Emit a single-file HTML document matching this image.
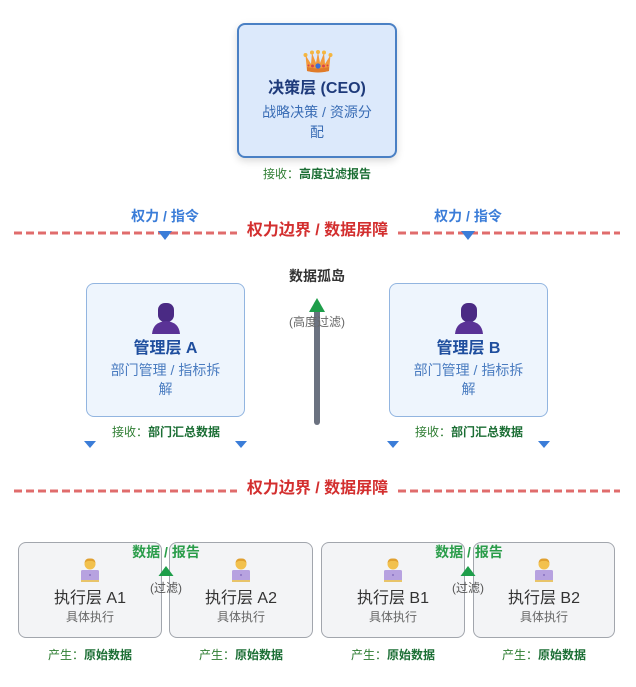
<!DOCTYPE html>
<html><head><meta charset="utf-8"><style>
*{margin:0;padding:0;box-sizing:border-box}
body{width:636px;height:687px;background:#fff;position:relative;overflow:hidden;font-family:"Liberation Sans","Noto Sans CJK SC",sans-serif}
.a{position:absolute;white-space:nowrap;text-align:center}
.box{position:absolute;border-radius:8px}
.ceo{left:237px;top:23px;width:160px;height:135px;background:#dce9fb;border:2px solid #4a80c4;box-shadow:0 3px 8px rgba(0,0,0,.15)}
.mgr{top:283px;width:159px;height:134px;background:#eef5fd;border:1px solid #92b5e0}
.ex{top:542px;height:96px;background:#f3f4f6;border:1px solid #a2a6ad}
.g{font-size:12px;color:#2e7d32;line-height:16px;font-family:"Noto Sans CJK SC",sans-serif}
.g b{color:#1b6e34}
</style></head><body>
<svg width="636" height="687" style="position:absolute;left:0;top:0">
<line x1="14" y1="233" x2="620" y2="233" stroke="#e06c6c" stroke-width="3" stroke-dasharray="8 4"/>
<line x1="14" y1="491" x2="620" y2="491" stroke="#e06c6c" stroke-width="3" stroke-dasharray="8 4"/>
<polygon points="158,231 172,231 165,240" fill="#3b7dd8"/>
<polygon points="461,231 475,231 468,240" fill="#3b7dd8"/>
<polygon points="84,441 96,441 90,448" fill="#3b7dd8"/>
<polygon points="235,441 247,441 241,448" fill="#3b7dd8"/>
<polygon points="387,441 399,441 393,448" fill="#3b7dd8"/>
<polygon points="538,441 550,441 544,448" fill="#3b7dd8"/>
<line x1="317" y1="304" x2="317" y2="422" stroke="#6b7280" stroke-width="6" stroke-linecap="round"/>
<polygon points="317,298 325,312 309,312" fill="#1e9e4a"/>
</svg>

<div class="box ceo"></div>
<svg width="30" height="24" viewBox="0 0 30 24" style="position:absolute;left:303px;top:50px">
<circle cx="2.5" cy="5" r="2" fill="#f4b740"/><circle cx="9" cy="2.5" r="2" fill="#f4b740"/><circle cx="15" cy="2" r="2" fill="#f4b740"/><circle cx="21" cy="2.5" r="2" fill="#f4b740"/><circle cx="27.5" cy="5" r="2" fill="#f4b740"/>
<path d="M2.5 5 L8 14 L9 3 L13 13 L15 2 L17 13 L21 3 L22 14 L27.5 5 L26 21 Q15 24 4 21 Z" fill="#f29a3c"/>
<path d="M4 17 Q15 20 26 17 L26 21 Q15 24 4 21 Z" fill="#e07b2a"/>
<circle cx="15" cy="16" r="2.6" fill="#3b6fd8"/><circle cx="9.5" cy="16" r="1.5" fill="#d9434b"/><circle cx="20.5" cy="16" r="1.5" fill="#d9434b"/><circle cx="5.5" cy="15.5" r="1" fill="#d9434b"/><circle cx="24.5" cy="15.5" r="1" fill="#d9434b"/>
</svg>
<div class="a" style="left:237px;width:160px;top:79px;font-size:16px;line-height:20px;font-weight:bold;color:#1e3a7a">决策层 (CEO)</div>
<div class="a" style="left:237px;width:160px;top:102px;font-size:14px;line-height:20px;color:#3a6db5">战略决策 / 资源分<br>配</div>
<div class="a g" style="left:217px;width:200px;top:166px">接收：<b>高度过滤报告</b></div>

<div class="a" style="left:115px;width:100px;top:207px;font-size:14px;line-height:18px;font-weight:bold;color:#3b7dd8">权力 / 指令</div>
<div class="a" style="left:418px;width:100px;top:207px;font-size:14px;line-height:18px;font-weight:bold;color:#3b7dd8">权力 / 指令</div>
<div class="a" style="left:237px;width:161px;top:220px;font-size:16px;line-height:22px;font-weight:bold;color:#d32f2f;background:#fff">权力边界 / 数据屏障</div>
<div class="a" style="left:237px;width:161px;top:478px;font-size:16px;line-height:22px;font-weight:bold;color:#d32f2f;background:#fff">权力边界 / 数据屏障</div>

<div class="a" style="left:267px;width:100px;top:267px;font-size:14px;line-height:18px;font-weight:bold;color:#333">数据孤岛</div>
<div class="a" style="left:267px;width:100px;top:314px;font-size:12px;line-height:16px;color:#666">(高度过滤)</div>

<div class="box mgr" style="left:86px"></div>
<div class="box mgr" style="left:389px"></div>
<svg width="30" height="31" viewBox="0 0 30 31" style="position:absolute;left:151px;top:303px"><rect x="7" y="0" width="16" height="19" rx="7" fill="#4a2a84"/><path d="M1 31 Q2 19 15 18 Q28 19 29 31 Z" fill="#5a3296"/></svg>
<svg width="30" height="31" viewBox="0 0 30 31" style="position:absolute;left:454px;top:303px"><rect x="7" y="0" width="16" height="19" rx="7" fill="#4a2a84"/><path d="M1 31 Q2 19 15 18 Q28 19 29 31 Z" fill="#5a3296"/></svg>
<div class="a" style="left:86px;width:159px;top:339px;font-size:16px;line-height:20px;font-weight:bold;color:#1f4e9e">管理层 A</div>
<div class="a" style="left:389px;width:159px;top:339px;font-size:16px;line-height:20px;font-weight:bold;color:#1f4e9e">管理层 B</div>
<div class="a" style="left:86px;width:159px;top:361px;font-size:14px;line-height:19px;color:#4a7cc0">部门管理 / 指标拆<br>解</div>
<div class="a" style="left:389px;width:159px;top:361px;font-size:14px;line-height:19px;color:#4a7cc0">部门管理 / 指标拆<br>解</div>
<div class="a g" style="left:66px;width:200px;top:424px">接收：<b>部门汇总数据</b></div>
<div class="a g" style="left:369px;width:200px;top:424px">接收：<b>部门汇总数据</b></div>

<div class="box ex" style="left:18px;width:144px"></div>
<div class="box ex" style="left:169px;width:144px"></div>
<div class="box ex" style="left:321px;width:144px"></div>
<div class="box ex" style="left:473px;width:142px"></div>

<svg width="0" height="0" style="position:absolute"><defs><g id="t"><circle cx="9" cy="6" r="5.5" fill="#f2c14e"/><path d="M3.5 5 Q4 0 9 0.5 Q14 0 14.5 5 Q12 2.5 9 3 Q6 2.5 3.5 5Z" fill="#e0a030"/><rect x="0" y="12" width="18" height="11" rx="1.5" fill="#b7a2e0"/><rect x="0" y="22" width="18" height="2" fill="#e8c46a"/><circle cx="9" cy="17" r="1" fill="#8a72c0"/></g></defs></svg>
<svg width="18" height="24" style="position:absolute;left:81px;top:558px"><use href="#t"/></svg>
<svg width="18" height="24" style="position:absolute;left:232px;top:558px"><use href="#t"/></svg>
<svg width="18" height="24" style="position:absolute;left:384px;top:558px"><use href="#t"/></svg>
<svg width="18" height="24" style="position:absolute;left:535px;top:558px"><use href="#t"/></svg>

<div class="a" style="left:18px;width:144px;top:589px;font-size:16px;line-height:20px;color:#333">执行层 A1</div>
<div class="a" style="left:169px;width:144px;top:589px;font-size:16px;line-height:20px;color:#333">执行层 A2</div>
<div class="a" style="left:321px;width:144px;top:589px;font-size:16px;line-height:20px;color:#333">执行层 B1</div>
<div class="a" style="left:473px;width:142px;top:589px;font-size:16px;line-height:20px;color:#333">执行层 B2</div>
<div class="a" style="left:18px;width:144px;top:609px;font-size:12px;line-height:16px;color:#666">具体执行</div>
<div class="a" style="left:169px;width:144px;top:609px;font-size:12px;line-height:16px;color:#666">具体执行</div>
<div class="a" style="left:321px;width:144px;top:609px;font-size:12px;line-height:16px;color:#666">具体执行</div>
<div class="a" style="left:473px;width:142px;top:609px;font-size:12px;line-height:16px;color:#666">具体执行</div>

<div class="a" style="left:116px;width:100px;top:543px;font-size:14px;line-height:18px;font-weight:bold;color:#2a9d4a">数据 / 报告</div>
<div class="a" style="left:419px;width:100px;top:543px;font-size:14px;line-height:18px;font-weight:bold;color:#2a9d4a">数据 / 报告</div>
<svg width="636" height="687" style="position:absolute;left:0;top:0"><polygon points="166,566 173.5,576 158.5,576" fill="#1e9e4a"/><polygon points="468,566 475.5,576 460.5,576" fill="#1e9e4a"/></svg>
<div class="a" style="left:126px;width:80px;top:580px;font-size:12px;line-height:16px;color:#555">(过滤)</div>
<div class="a" style="left:428px;width:80px;top:580px;font-size:12px;line-height:16px;color:#555">(过滤)</div>

<div class="a g" style="left:0px;width:180px;top:647px">产生：<b>原始数据</b></div>
<div class="a g" style="left:151px;width:180px;top:647px">产生：<b>原始数据</b></div>
<div class="a g" style="left:303px;width:180px;top:647px">产生：<b>原始数据</b></div>
<div class="a g" style="left:454px;width:180px;top:647px">产生：<b>原始数据</b></div>
</body></html>
